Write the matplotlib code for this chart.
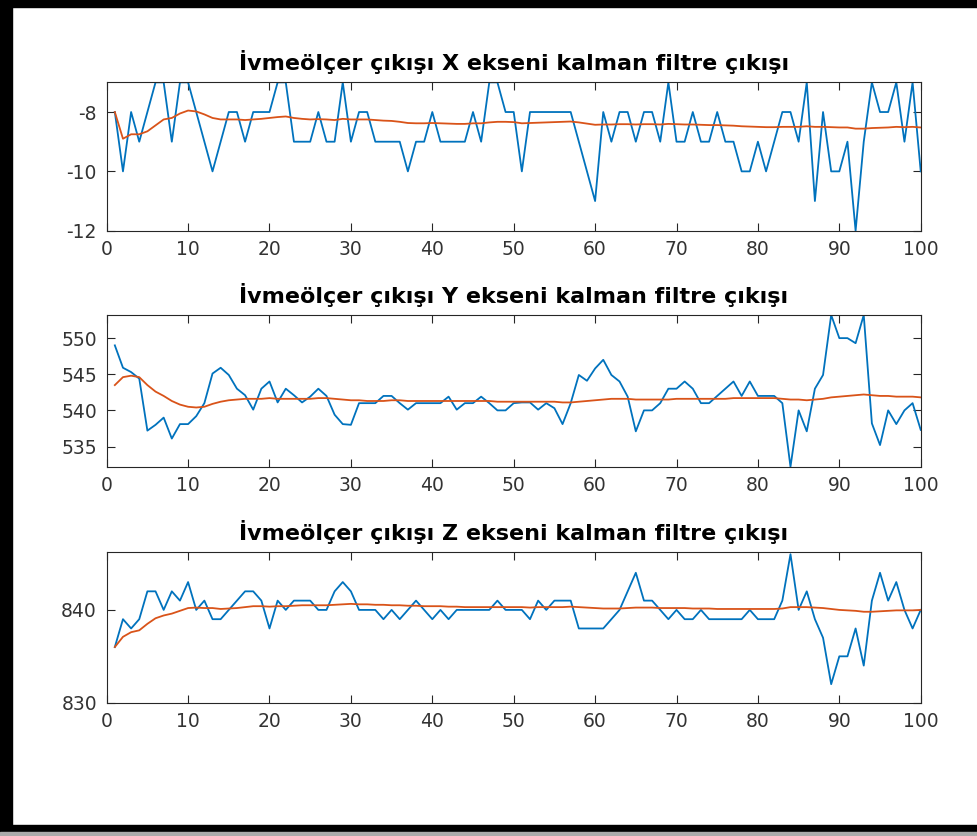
import matplotlib
matplotlib.use("Agg")
import matplotlib.pyplot as plt
from matplotlib.patches import Rectangle

plt.rcParams['font.family'] = ['DejaVu Sans']
plt.rcParams['axes.unicode_minus'] = False

# ------ data -------------------------------------

x = list(range(1, 101))

x_raw = [-8, -10, -8, -9, -8, -7, -7, -9, -7, -7,
         -8, -9, -10, -9, -8, -8, -9, -8, -8, -8,
         -7, -7, -9, -9, -9, -8, -9, -9, -7, -9,
         -8, -8, -9, -9, -9, -9, -10, -9, -9, -8,
         -9, -9, -9, -9, -8, -9, -7, -7, -8, -8,
         -10, -8, -8, -8, -8, -8, -8, -9, -10, -11,
         -8, -9, -8, -8, -9, -8, -8, -9, -7, -9,
         -9, -8, -9, -9, -8, -9, -9, -10, -10, -9,
         -10, -9, -8, -8, -9, -7, -11, -8, -10, -10,
         -9, -12, -9, -7, -8, -8, -7, -9, -7, -10]

x_kalman = [-8.0, -8.9, -8.75, -8.75, -8.65, -8.45, -8.25, -8.2, -8.05, -7.95,
            -7.98, -8.08, -8.2, -8.25, -8.25, -8.25, -8.27, -8.25, -8.23, -8.2,
            -8.17, -8.15, -8.2, -8.23, -8.25, -8.24, -8.25, -8.27, -8.23, -8.25,
            -8.25, -8.25, -8.27, -8.29, -8.3, -8.33, -8.37, -8.38, -8.38, -8.37,
            -8.38, -8.39, -8.4, -8.4, -8.38, -8.38, -8.35, -8.33, -8.33, -8.34,
            -8.38, -8.37, -8.36, -8.35, -8.34, -8.33, -8.32, -8.35, -8.39, -8.43,
            -8.42, -8.42, -8.41, -8.41, -8.42, -8.41, -8.41, -8.42, -8.4, -8.41,
            -8.42, -8.42, -8.43, -8.44, -8.44, -8.45, -8.46, -8.48, -8.49, -8.5,
            -8.51, -8.51, -8.5, -8.5, -8.5, -8.48, -8.5, -8.5, -8.51, -8.52,
            -8.52, -8.56, -8.56, -8.54, -8.53, -8.52, -8.5, -8.51, -8.5, -8.52]

y_raw = [549.0, 545.9, 545.3, 544.4, 537.2, 538.0, 539.0, 536.1, 538.1, 538.1,
         539.2, 541.0, 545.1, 545.9, 544.9, 543.0, 542.1, 540.1, 543.0, 544.0,
         541.1, 543.0, 542.1, 541.1, 541.9, 543.0, 542.0, 539.4, 538.1, 538.0,
         541.0, 541.0, 541.0, 542.0, 542.0, 541.0, 540.1, 541.0, 541.0, 541.0,
         541.0, 541.9, 540.1, 541.0, 541.0, 541.9, 541.0, 540.0, 540.0, 541.0,
         541.1, 541.1, 540.1, 541.0, 540.3, 538.1, 541.0, 544.9, 544.1, 545.8,
         547.0, 544.9, 544.0, 541.9, 537.1, 540.0, 540.0, 541.0, 543.0, 543.0,
         544.0, 543.0, 541.0, 541.0, 542.0, 543.0, 544.0, 542.0, 544.0, 542.0,
         542.0, 542.0, 541.0, 532.2, 540.0, 537.1, 543.0, 544.9, 553.2, 550.0,
         550.0, 549.3, 553.2, 538.2, 535.2, 540.0, 538.1, 540.0, 541.0, 537.3]

y_kalman = [543.5, 544.6, 544.8, 544.6, 543.5, 542.6, 542.0, 541.3, 540.8, 540.5,
            540.4, 540.5, 540.9, 541.2, 541.4, 541.5, 541.6, 541.6, 541.6, 541.7,
            541.6, 541.6, 541.6, 541.6, 541.6, 541.7, 541.7, 541.6, 541.5, 541.4,
            541.4, 541.3, 541.3, 541.3, 541.4, 541.4, 541.3, 541.3, 541.3, 541.3,
            541.3, 541.3, 541.3, 541.3, 541.3, 541.3, 541.3, 541.2, 541.2, 541.2,
            541.2, 541.2, 541.2, 541.2, 541.2, 541.1, 541.1, 541.2, 541.3, 541.4,
            541.5, 541.6, 541.6, 541.6, 541.5, 541.5, 541.5, 541.5, 541.5, 541.6,
            541.6, 541.6, 541.6, 541.6, 541.6, 541.6, 541.7, 541.7, 541.7, 541.7,
            541.7, 541.7, 541.6, 541.5, 541.5, 541.4, 541.5, 541.6, 541.8, 541.9,
            542.0, 542.1, 542.2, 542.1, 542.0, 542.0, 541.9, 541.9, 541.9, 541.8]

z_raw = [836, 839, 838, 839, 842, 842, 840, 842, 841, 843,
         840, 841, 839, 839, 840, 841, 842, 842, 841, 838,
         841, 840, 841, 841, 841, 840, 840, 842, 843, 842,
         840, 840, 840, 839, 840, 839, 840, 841, 840, 839,
         840, 839, 840, 840, 840, 840, 840, 841, 840, 840,
         840, 839, 841, 840, 841, 841, 841, 838, 838, 838,
         838, 839, 840, 842, 844, 841, 841, 840, 839, 840,
         839, 839, 840, 839, 839, 839, 839, 839, 840, 839,
         839, 839, 841, 846, 840, 842, 839, 837, 832, 835,
         835, 838, 834, 841, 844, 841, 843, 840, 838, 840]

z_kalman = [836.0, 837.1, 837.6, 837.8, 838.5, 839.1, 839.4, 839.6, 839.9, 840.2,
            840.25, 840.2, 840.2, 840.1, 840.15, 840.2, 840.3, 840.4, 840.4, 840.35,
            840.4, 840.4, 840.45, 840.5, 840.5, 840.5, 840.5, 840.55, 840.6, 840.65,
            840.6, 840.6, 840.55, 840.55, 840.5, 840.5, 840.45, 840.45, 840.4, 840.4,
            840.4, 840.35, 840.35, 840.3, 840.3, 840.3, 840.3, 840.3, 840.3, 840.3,
            840.3, 840.25, 840.3, 840.3, 840.3, 840.3, 840.35, 840.3, 840.25, 840.2,
            840.15, 840.15, 840.15, 840.2, 840.25, 840.25, 840.25, 840.2, 840.2, 840.2,
            840.2, 840.15, 840.15, 840.15, 840.1, 840.1, 840.1, 840.1, 840.1, 840.1,
            840.1, 840.1, 840.15, 840.3, 840.3, 840.3, 840.25, 840.2, 840.1, 840.0,
            839.95, 839.9, 839.8, 839.8, 839.85, 839.9, 839.95, 839.95, 839.95, 840.0]

titles = ["İvmeölçer çıkışı X ekseni kalman filtre çıkışı",
          "İvmeölçer çıkışı Y ekseni kalman filtre çıkışı",
          "İvmeölçer çıkışı Z ekseni kalman filtre çıkışı"]
ylims = [(-12, -7), (532.2, 553.2), (830, 846.2)]
yticks = [[-12, -10, -8], [535, 540, 545, 550], [830, 840]]
xticks = list(range(0, 101, 10))

# ----------- plotting ----------------------------

fig = plt.figure(figsize=(9.77, 8.36), dpi=100)

boxes = [[0.1092, 0.7240, 0.8332, 0.1775],
         [0.1092, 0.4417, 0.8332, 0.1815],
         [0.1092, 0.1594, 0.8332, 0.1799]]
series = [(x_raw, x_kalman), (y_raw, y_kalman), (z_raw, z_kalman)]

for i in range(3):
    ax = fig.add_axes(boxes[i])
    raw, kal = series[i]
    ax.plot(x, raw, color='#0072BD', lw=1.3)
    ax.plot(x, kal, color='#D95319', lw=1.3)
    ax.set_xlim(0, 100)
    ax.set_ylim(*ylims[i])
    ax.set_xticks(xticks)
    ax.set_yticks(yticks[i])
    ax.tick_params(direction='in', length=5.5, width=0.8, top=True, right=True,
                   labelsize=13.5, labelcolor='#333333', color='#262626', pad=7)
    for s in ax.spines.values():
        s.set_color('#262626')
        s.set_linewidth(0.8)
    ax.set_title(titles[i], fontsize=16, fontweight='bold', pad=9)

# black frame of the screenshot
W, H = 977.0, 836.0
fig.patches.append(Rectangle((0, 0), 12 / W, 1, transform=fig.transFigure,
                             color='black', zorder=10))
fig.patches.append(Rectangle((0, 1 - 7 / H), 1, 7 / H, transform=fig.transFigure,
                             color='black', zorder=10))
fig.patches.append(Rectangle((0, 4 / H), 1, 7 / H, transform=fig.transFigure,
                             color='black', zorder=10))
fig.patches.append(Rectangle((0, 0), 1, 4 / H, transform=fig.transFigure,
                             color='#aaaaaa', zorder=10))

plt.savefig("out.png", dpi=100)
